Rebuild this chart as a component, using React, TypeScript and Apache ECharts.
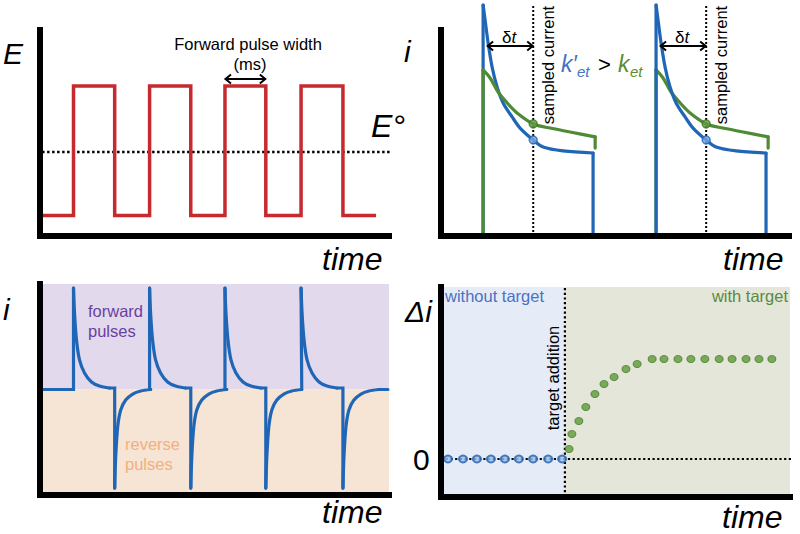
import React, { useEffect, useRef } from "react";
import * as echarts from "echarts";

// ---------- Panel A: applied square-wave potential ----------
const pulseRise = [9.6, 31.4, 53.0, 74.8];
const pulseFall = [21.4, 43.2, 64.7, 86.8];
const potentialLow = 1.0;
const potentialHigh = 7.28;
const formalPotential = 4.08;
const waveEnd = 96.3;

// ---------- Panel B: current decays for two rates ----------
const sampleOnsets = [12.1, 61.8];
const sampleDelay = 14.4;
const fastDecayDt = [0, 0.57, 1.44, 2.59, 4.02, 5.75, 8.33, 10.63, 14.4, 17.24, 22.99, 31.6];
const fastDecayI = [11.21, 10.49, 9.37, 8.2, 7.23, 6.46, 5.78, 5.24, 4.66, 4.32, 4.13, 4.03];
const slowDecayDt = [0, 2.01, 4.31, 6.9, 9.77, 14.4, 19.25, 25.0, 32.2];
const slowDecayI = [8.06, 7.67, 6.99, 6.46, 5.97, 5.44, 5.24, 5.05, 4.81];
const slowDropI = 4.27;
const fastSampled = 4.66;
const slowSampled = 5.44;

// ---------- Panel C: current response to forward / reverse pulses ----------
const forwardDt = [0, 0.29, 0.86, 1.72, 3.15, 5.16, 7.45, 10.3];
const forwardI = [9.62, 7.25, 4.69, 2.8, 1.56, 0.71, 0.33, 0.14];
const reverseDt = [0, 0.29, 0.86, 1.72, 3.15, 5.16, 7.45, 10.3];
const reverseI = [-9.34, -6.4, -3.55, -1.94, -1.0, -0.43, -0.14, 0];
const traceEnd = 99.7;

// ---------- Panel D: Δi before / after target addition ----------
const baselineTimes = [2.0, 6.3, 10.3, 14.3, 18.3, 22.3, 26.4, 30.7, 34.7];
const baselineDeltaI = [0, 0, 0, 0, 0, 0, 0, 0, 0];
const targetTime = 35.5;
const responseTimes = [36.7, 37.5, 39.5, 41.5, 44.1, 46.7, 49.6, 53.0, 56.2, 60.5, 63.9, 67.9, 71.6, 75.6, 79.7, 83.4, 87.4, 91.1, 94.8];
const responseDeltaI = [1.0, 2.5, 3.8, 5.2, 6.5, 7.5, 8.2, 9.0, 9.5, 10, 10, 10, 10, 10, 10, 10, 10, 10, 10];
const deltaMin = -3.8;
const deltaMax = 17.2;

const FONT = "'Liberation Sans', Arial, Helvetica, sans-serif";
const RED = "#c62a2f";
const BLUE = "#1f66b6";
const GREEN = "#4f8a34";

const axisLine = { show: true, onZero: false, lineStyle: { color: "#000", width: 6, cap: "square" } };
const mkAxis = (g: number, min: number, max: number) => ({
  type: "value", gridIndex: g, min, max, z: 10,
  axisLine, axisTick: { show: false }, axisLabel: { show: false }, splitLine: { show: false },
});
const line = (g: number, data: any[], color: string, width: number, extra: any = {}) => ({
  type: "line", xAxisIndex: g, yAxisIndex: g, data, symbol: "none", clip: false, silent: true, z: 3,
  connectNulls: false,
  lineStyle: { color, width, join: "miter", cap: "round" }, ...extra,
});
const dotted = (g: number, data: number[][], width: number, dash: number[]) =>
  line(g, data, "#000", width, { z: 2, lineStyle: { color: "#000", width, type: dash } });

function buildOption() {
  const series: any[] = [];

  // Panel A
  const wave: number[][] = [[0, potentialLow]];
  pulseRise.forEach((r, k) => {
    wave.push([r, potentialLow], [r, potentialHigh], [pulseFall[k], potentialHigh], [pulseFall[k], potentialLow]);
  });
  wave.push([waveEnd, potentialLow]);
  series.push(dotted(0, [[0.6, formalPotential], [100.9, formalPotential]], 2.5, [2.5, 2.5]));
  series.push(line(0, wave, RED, 3.5, { lineStyle: { color: RED, width: 3.5, join: "miter" } }));

  // Panel B
  sampleOnsets.forEach((s, k) => {
    const t = s + sampleDelay;
    series.push(dotted(1, [[t, 0], [t, fastDecayI[0]]], 2, [2, 2]));
    const fEnd = s + fastDecayDt[fastDecayDt.length - 1];
    const sEnd = s + slowDecayDt[slowDecayDt.length - 1];
    const blue = [
      line(1, [[s, 0], [s, fastDecayI[0]], null, [fEnd, fastDecayI[fastDecayI.length - 1]], [fEnd, 0]], BLUE, 3.2),
      line(1, fastDecayDt.map((d, j) => [s + d, fastDecayI[j]]), BLUE, 3.2, { smooth: 0.3 }),
    ];
    const green = [
      line(1, [[s, 0], [s, slowDecayI[0]], null, [sEnd, slowDecayI[slowDecayI.length - 1]], [sEnd, slowDropI]], GREEN, 3.2),
      line(1, slowDecayDt.map((d, j) => [s + d, slowDecayI[j]]), GREEN, 3.2, { smooth: 0.3 }),
    ];
    if (k === 0) series.push(...blue, ...green);
    else series.push(...green, ...blue);
  });
  series.push({
    type: "scatter", xAxisIndex: 1, yAxisIndex: 1, silent: true, z: 5, symbolSize: 8,
    data: sampleOnsets.map((s) => [s + sampleDelay, fastSampled]),
    itemStyle: { color: "#7aa5dd", borderColor: BLUE, borderWidth: 1.5 },
  });
  series.push({
    type: "scatter", xAxisIndex: 1, yAxisIndex: 1, silent: true, z: 5, symbolSize: 8,
    data: sampleOnsets.map((s) => [s + sampleDelay, slowSampled]),
    itemStyle: { color: "#5f9c3c", borderColor: "#3f7a2a", borderWidth: 1.5 },
  });

  // Panel C
  series.push({
    type: "line", xAxisIndex: 2, yAxisIndex: 2, data: [[0, 0]], symbol: "none", silent: true, z: 1,
    lineStyle: { opacity: 0 },
    markArea: {
      silent: true,
      data: [
        [{ coord: [0, 0], itemStyle: { color: "#e2d9ec" } }, { coord: [100, 10] }],
        [{ coord: [0, -10], itemStyle: { color: "#f6e4d4" } }, { coord: [100, 0] }],
      ],
    },
  });
  const fLast = forwardI.length - 1;
  const rLast = reverseI.length - 1;
  const straight: any[] = [[0, 0]];
  const curved: any[] = [];
  pulseRise.forEach((r, k) => {
    const f = pulseFall[k];
    straight.push([r, 0], [r, forwardI[0]], null,
      [r + forwardDt[fLast], forwardI[fLast]], [f, forwardI[fLast]], [f, reverseI[0]], null,
      [f + reverseDt[rLast], reverseI[rLast]]);
    forwardDt.forEach((d, j) => curved.push([r + d, forwardI[j]]));
    curved.push(null);
    reverseDt.forEach((d, j) => curved.push([f + d, reverseI[j]]));
    curved.push(null);
  });
  straight.push([traceEnd, 0]);
  series.push(line(2, straight, BLUE, 3.2));
  series.push(line(2, curved, BLUE, 3.2, { smooth: 0.3 }));

  // Panel D
  series.push({
    type: "line", xAxisIndex: 3, yAxisIndex: 3, data: [[0, 0]], symbol: "none", silent: true, z: 1,
    lineStyle: { opacity: 0 },
    markArea: {
      silent: true,
      data: [
        [{ coord: [0, deltaMin], itemStyle: { color: "#e6ecf7" } }, { coord: [targetTime, deltaMax] }],
        [{ coord: [targetTime, deltaMin], itemStyle: { color: "#e3e6d8" } }, { coord: [100, deltaMax] }],
      ],
    },
  });
  series.push(dotted(3, [[0, 0], [101.7, 0]], 2.2, [2.2, 2.5]));
  series.push(dotted(3, [[targetTime, deltaMin], [targetTime, deltaMax]], 2.2, [2.2, 2.5]));
  series.push({
    type: "scatter", xAxisIndex: 3, yAxisIndex: 3, silent: true, z: 5, symbolSize: [8, 7],
    data: baselineTimes.map((t, j) => [t, baselineDeltaI[j]]),
    itemStyle: { color: "#9dbbe3", borderColor: "#1d5fae", borderWidth: 2 },
  });
  series.push({
    type: "scatter", xAxisIndex: 3, yAxisIndex: 3, silent: true, z: 5, symbolSize: [8, 7],
    data: responseTimes.map((t, j) => [t, responseDeltaI[j]]),
    itemStyle: { color: "#5e9a3a", borderColor: "#4a7f2c", borderWidth: 1 },
  });

  return {
    animation: false,
    backgroundColor: "#fff",
    grid: [
      { left: 40, top: 30, width: 349, height: 206 },
      { left: 441, top: 30, width: 348, height: 206 },
      { left: 40, top: 284, width: 349, height: 211 },
      { left: 441, top: 287, width: 349, height: 210 },
    ],
    xAxis: [mkAxis(0, 0, 100), mkAxis(1, 0, 100), mkAxis(2, 0, 100), mkAxis(3, 0, 100)],
    yAxis: [mkAxis(0, 0, 10), mkAxis(1, 0, 10), mkAxis(2, -10, 10), mkAxis(3, deltaMin, deltaMax)],
    series,
  };
}

const txt = (x: number, baseline: number, text: string, size: number, o: any = {}) => ({
  type: "text", x, y: baseline - 0.35 * size, silent: true, z: 20,
  style: {
    text, fontSize: size, fontFamily: FONT, fontStyle: o.italic ? "italic" : "normal",
    fill: o.color || "#000", align: o.align || "left", verticalAlign: "middle", rich: o.rich,
  },
});
const rotTxt = (cx: number, cy: number, text: string, size: number) => ({
  type: "text", x: cx, y: cy, rotation: Math.PI / 2, silent: true, z: 20,
  style: { text, fontSize: size, fontFamily: FONT, fill: "#000", align: "center", verticalAlign: "middle" },
});
const arrow = (x1: number, x2: number, y: number) => [
  { type: "line", silent: true, z: 20, shape: { x1, y1: y, x2, y2: y }, style: { stroke: "#000", lineWidth: 2 } },
  { type: "polyline", silent: true, z: 20, shape: { points: [[x1 + 6, y - 4.5], [x1 + 0.5, y], [x1 + 6, y + 4.5]] }, style: { stroke: "#000", lineWidth: 2, fill: null } },
  { type: "polyline", silent: true, z: 20, shape: { points: [[x2 - 6, y - 4.5], [x2 - 0.5, y], [x2 - 6, y + 4.5]] }, style: { stroke: "#000", lineWidth: 2, fill: null } },
];

export default function App() {
  const ref = useRef<HTMLDivElement>(null);
  useEffect(() => {
    const chart = echarts.init(ref.current!, null, { renderer: "svg" });
    chart.setOption(buildOption());
    const px = (g: number, v: number[]) => chart.convertToPixel({ gridIndex: g } as any, v) as number[];

    const g: any[] = [];
    // Panel A
    g.push(txt(3, 64, "E", 30, { italic: true }));
    g.push(txt(371, 137, "E°", 32, { italic: true }));
    g.push(txt(248, 50, "Forward pulse width", 16.5, { align: "center" }));
    g.push(txt(250, 70, "(ms)", 16.5, { align: "center" }));
    g.push(...arrow(px(0, [pulseRise[2], 0])[0], px(0, [pulseFall[2], 0])[0], 79));
    g.push(txt(322, 270, "time", 32, { italic: true }));

    // Panel B
    g.push(txt(404, 62, "i", 30, { italic: true }));
    sampleOnsets.forEach((s) => {
      const x0 = px(1, [s, 0])[0];
      const xs = px(1, [s + sampleDelay, 0])[0];
      g.push(...arrow(x0 + 4, xs, 46));
      g.push(txt((x0 + xs) / 2 + 1, 43, "{a|δ}{b|t}", 17, {
        align: "center",
        rich: { a: { fontSize: 17, fontFamily: FONT }, b: { fontSize: 17, fontFamily: FONT, fontStyle: "italic" } },
      }));
      g.push(rotTxt(xs + 15, 65, "sampled current", 16.5));
    });
    g.push(txt(561, 72, "k′", 23, { italic: true, color: "#4472c4" }));
    g.push(txt(577, 77, "et", 15, { italic: true, color: "#4472c4" }));
    g.push(txt(598, 72, ">", 22));
    g.push(txt(618, 72, "k", 23, { italic: true, color: "#5b8c32" }));
    g.push(txt(630, 77, "et", 15, { italic: true, color: "#5b8c32" }));
    g.push(txt(723, 270, "time", 32, { italic: true }));

    // Panel C
    g.push(txt(3, 320, "i", 30, { italic: true }));
    g.push(txt(88, 317, "forward", 16.5, { color: "#6b3fa0" }));
    g.push(txt(88, 337, "pulses", 16.5, { color: "#6b3fa0" }));
    g.push(txt(125, 450, "reverse", 16.5, { color: "#f2b07f" }));
    g.push(txt(125, 470, "pulses", 16.5, { color: "#f2b07f" }));
    g.push(txt(322, 523, "time", 32, { italic: true }));

    // Panel D
    const zero = px(3, [0, 0]);
    const tx = px(3, [targetTime, 0])[0];
    g.push(txt(405, 322, "Δi", 30, { italic: true }));
    g.push({ ...txt(413, 0, "0", 30), y: zero[1] });
    g.push(txt(445, 302, "without target", 16.5, { color: "#4a72c4" }));
    g.push(txt(788, 302, "with target", 16.5, { color: "#5a8a3c", align: "right" }));
    g.push(rotTxt(tx - 12, 378, "target addition", 16.5));
    g.push(txt(722, 528, "time", 32, { italic: true }));

    chart.setOption({ graphic: g });
    return () => chart.dispose();
  }, []);
  return (
    <div
      ref={ref}
      style={{ position: "fixed", left: 0, top: 0, width: 800, height: 534, background: "#fff" }}
    />
  );
}
